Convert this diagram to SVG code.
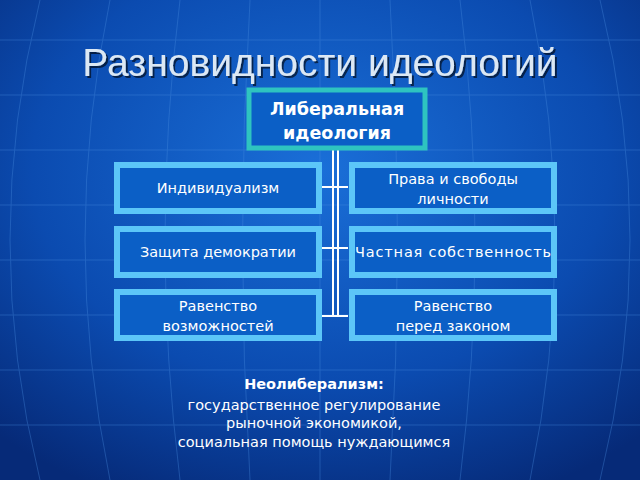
<svg xmlns="http://www.w3.org/2000/svg" width="640" height="480" viewBox="0 0 640 480">
<defs>
<radialGradient id="bg" cx="0.5" cy="0.35" r="0.75">
<stop offset="0" stop-color="#1a6fd8"/><stop offset="0.6" stop-color="#0b4bb0"/><stop offset="1" stop-color="#062a78"/>
</radialGradient>
<filter id="sh" x="-10%" y="-20%" width="120%" height="150%"><feDropShadow dx="2" dy="2" stdDeviation="0.5" flood-color="#000" flood-opacity="0.6"/></filter>
<style>
.box{fill:#0b5fc6;stroke:#5cc6f8;stroke-width:6}
.t{font-family:"DejaVu Sans",sans-serif;font-size:14.5px;fill:#fff;text-anchor:middle}
.b{font-weight:bold;font-size:17.5px}
.c{stroke:#fff;stroke-width:2;fill:none}
.g{stroke:#4a8ee0;stroke-width:1;opacity:0.35;fill:none}
</style>
</defs>
<rect width="640" height="480" fill="url(#bg)"/>
<g class="g">
<path d="M0 40H640M0 95H640M0 150H640M0 205H640M0 260H640M0 315H640M0 370H640M0 425H640"/>
<path d="M320 0V480M250 0Q235 240 250 480M390 0Q405 240 390 480M180 0Q150 240 180 480M460 0Q490 240 460 480M110 0Q60 240 110 480M530 0Q580 240 530 480M40 0Q-20 240 40 480M600 0Q660 240 600 480"/>
</g>
<text x="320" y="76" font-family="Liberation Sans,Arial,sans-serif" font-size="39" fill="#dce8f4" text-anchor="middle" filter="url(#sh)">Разновидности идеологий</text>
<g id="connectors" class="c">
<path d="M333 150V316M338 150V316M322 187H348M322 248H348M322 316H348"/>
</g>
<g id="root"><rect x="249" y="90" width="176" height="58" fill="#0b5fc6" stroke="#2ec4c0" stroke-width="5"/>
<text class="t b" x="337" y="115">Либеральная</text>
<text class="t b" x="337" y="139">идеология</text></g>
<g id="n1"><rect class="box" x="117" y="165" width="202" height="46"/><text class="t" x="218" y="193">Индивидуализм</text></g>
<g id="n2"><rect class="box" x="352" y="165" width="202" height="46"/><text class="t" x="453" y="184">Права и свободы</text><text class="t" x="453" y="204">личности</text></g>
<g id="n3"><rect class="box" x="117" y="229" width="202" height="46"/><text class="t" x="218" y="257">Защита демократии</text></g>
<g id="n4"><rect class="box" x="352" y="229" width="202" height="46"/><text class="t" x="453" y="257" textLength="196">Частная собственность</text></g>
<g id="n5"><rect class="box" x="117" y="292" width="202" height="46"/><text class="t" x="218" y="311">Равенство</text><text class="t" x="218" y="331">возможностей</text></g>
<g id="n6"><rect class="box" x="352" y="292" width="202" height="46"/><text class="t" x="453" y="311">Равенство</text><text class="t" x="453" y="331">перед законом</text></g>
<g id="note">
<text class="t" x="314" y="389" font-weight="bold">Неолиберализм:</text>
<text class="t" x="314" y="410">государственное регулирование</text>
<text class="t" x="314" y="428">рыночной экономикой,</text>
<text class="t" x="314" y="447">социальная помощь нуждающимся</text>
</g>
</svg>
